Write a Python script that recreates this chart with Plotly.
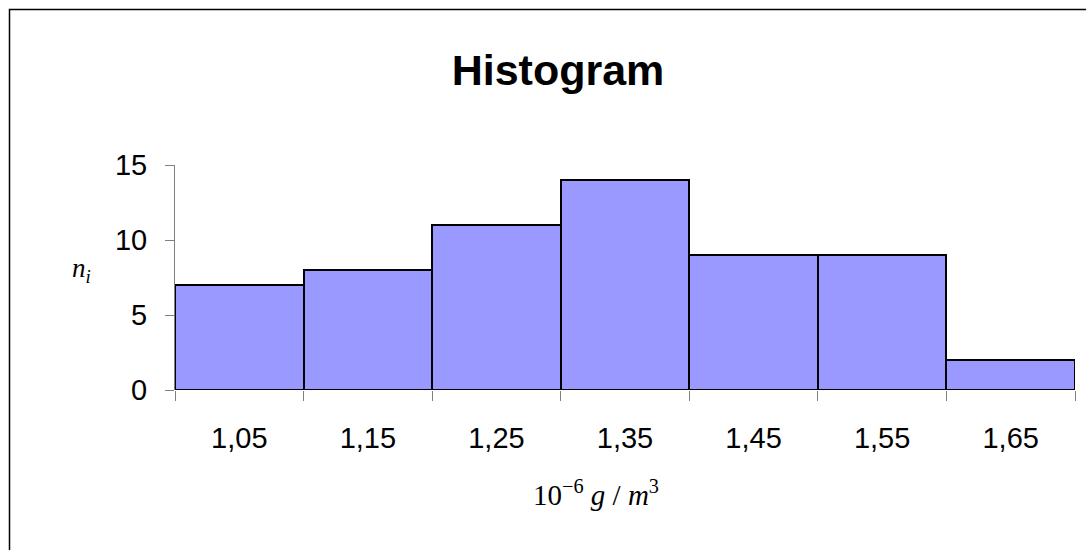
import plotly.graph_objects as go

bin_centers = [1.05, 1.15, 1.25, 1.35, 1.45, 1.55, 1.65]
bin_labels = ["1,05", "1,15", "1,25", "1,35", "1,45", "1,55", "1,65"]
counts = [7, 8, 11, 14, 9, 9, 2]
bin_edges = [1.0, 1.1, 1.2, 1.3, 1.4, 1.5, 1.6, 1.7]
y_ticks = [0, 5, 10, 15]

fig = go.Figure()
fig.add_trace(go.Bar(
    x=bin_centers, y=counts, width=0.1,
    marker=dict(color="#9999FF", line=dict(color="black", width=2)),
))

font = "Liberation Sans, Arial, sans-serif"
fig.update_layout(
    width=1086, height=550,
    margin=dict(l=175, r=11, t=165, b=160),
    paper_bgcolor="white", plot_bgcolor="white",
    showlegend=False,
    title=dict(text="<b>Histogram</b>", x=558/1086, xanchor="center", y=1-70/550, yanchor="middle",
               font=dict(family=font, size=43, color="black")),
    xaxis=dict(range=[1.0, 1.7], tickvals=bin_centers, ticktext=bin_labels, ticks="",
               showgrid=False, zeroline=False, showline=False,
               tickfont=dict(family=font, size=29, color="black"),
               ticklabelstandoff=28,
               minor=dict(tickvals=bin_edges, ticks="outside", ticklen=10, tickcolor="#808080", tickwidth=1, showgrid=False)),
    yaxis=dict(range=[0, 15], tickvals=y_ticks, ticks="outside", ticklen=9, tickcolor="#808080",
               showgrid=False, zeroline=False, showline=True, linecolor="#808080", linewidth=1,
               tickfont=dict(family=font, size=29, color="black"), ticklabelstandoff=12),
    bargap=0,
)

# outer frame of the chart area (extends beyond the right and bottom edges)
fig.add_shape(type="rect", xref="paper", yref="paper",
              x0=(9.5-175)/900, x1=1.3, y0=-1.2, y1=(390-9.5)/225,
              line=dict(color="black", width=1.5), layer="below")

fig.add_annotation(text="<i>n<sub>i</sub></i>", xref="paper", yref="paper",
                   x=(70-175)/900, y=(390-270)/225, showarrow=False,
                   font=dict(family="Liberation Serif, Times New Roman, serif", size=27, color="black"))
fig.add_annotation(text="10<sup>−6</sup> <i>g</i> / <i>m</i><sup>3</sup>", xref="paper", yref="paper",
                   x=(596-175)/900, y=(390-513)/225, showarrow=False,
                   font=dict(family="Liberation Serif, Times New Roman, serif", size=29, color="black"))

fig.write_html("out.html", config={"displayModeBar": False},
               post_script="document.body.style.margin='0';")
